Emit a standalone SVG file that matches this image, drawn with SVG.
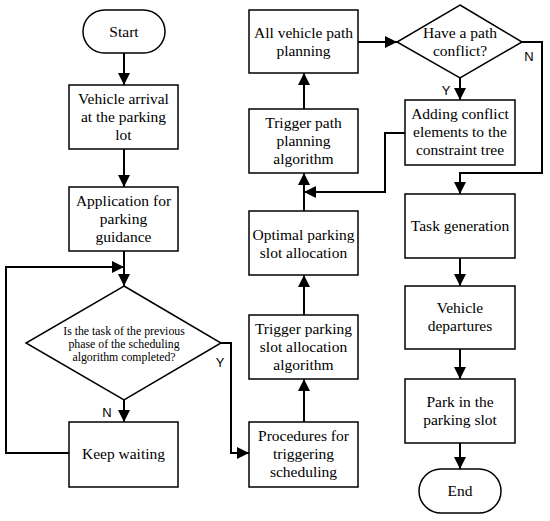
<svg xmlns="http://www.w3.org/2000/svg" width="550" height="521" viewBox="0 0 550 521">
<defs>
<marker id="ah" markerUnits="userSpaceOnUse" markerWidth="12" markerHeight="12" viewBox="0 0 12 12" refX="12" refY="6" orient="auto">
<path d="M0,0 L12,6 L0,12 Z" fill="#000"/>
</marker>
</defs>
<style>
.box{fill:#fff;stroke:#000;stroke-width:1.5}
.t{font-family:"Liberation Serif","Times New Roman",serif;font-size:15.5px;text-anchor:middle;fill:#000}
.ts{font-family:"Liberation Serif","Times New Roman",serif;font-size:11.8px;text-anchor:middle;fill:#000}
.lb{font-family:"Liberation Sans",Arial,sans-serif;font-size:13px;text-anchor:middle;fill:#000}
.ca{fill:none;stroke:#000;stroke-width:2;marker-end:url(#ah)}
</style>
<rect width="550" height="521" fill="#fff"/>
<g id="connectors">
<path class="ca" d="M124,53 V85"/>
<path class="ca" d="M124,149 V187"/>
<path class="ca" d="M124,251 V286"/>
<path class="ca" d="M69,453 H6 V267 H124"/>
<path class="ca" d="M124,400 V422"/>
<path class="ca" d="M221,343 H231 V453 H249"/>
<path class="ca" d="M304,422 V379"/>
<path class="ca" d="M304,315 V275"/>
<path class="ca" d="M304,211 V173"/>
<path class="ca" d="M304,109 V73"/>
<path class="ca" d="M405,133 H385 V192 H304"/>
<path class="ca" d="M358,42 H397"/>
<path class="ca" d="M460,78 V100"/>
<path class="ca" d="M522,42 H542 V173 H460 V194"/>
<path class="ca" d="M460,258 V286"/>
<path class="ca" d="M460,349 V379"/>
<path class="ca" d="M460,443 V469"/>
<text class="lb" x="107" y="417">N</text>
<text class="lb" x="220" y="367">Y</text>
<text class="lb" x="446" y="95">Y</text>
<text class="lb" x="529" y="61">N</text>
</g>
<g id="start">
<rect class="box" x="83" y="10" width="82" height="43" rx="21.5"/>
<text class="t" x="124" y="37">Start</text>
</g>
<g id="arrival">
<rect class="box" x="69" y="85" width="109" height="64"/>
<text class="t" x="123.5" y="104">Vehicle arrival</text>
<text class="t" x="123.5" y="122">at the parking</text>
<text class="t" x="123.5" y="140">lot</text>
</g>
<g id="application">
<rect class="box" x="69" y="187" width="109" height="64"/>
<text class="t" x="123.5" y="206">Application for</text>
<text class="t" x="123.5" y="224">parking</text>
<text class="t" x="123.5" y="242">guidance</text>
</g>
<g id="decision1">
<polygon class="box" points="124,286 221,343 124,400 26,343"/>
<text class="ts" x="124" y="335">Is the task of the previous</text>
<text class="ts" x="124" y="348">phase of the scheduling</text>
<text class="ts" x="124" y="361">algorithm completed?</text>
</g>
<g id="waiting">
<rect class="box" x="69" y="422" width="109" height="65"/>
<text class="t" x="123.5" y="459">Keep waiting</text>
</g>
<g id="procedures">
<rect class="box" x="249" y="422" width="109" height="65"/>
<text class="t" x="303.5" y="441">Procedures for</text>
<text class="t" x="303.5" y="459">triggering</text>
<text class="t" x="303.5" y="477">scheduling</text>
</g>
<g id="trigger-slot">
<rect class="box" x="249" y="315" width="109" height="64"/>
<text class="t" x="303.5" y="334">Trigger parking</text>
<text class="t" x="303.5" y="352">slot allocation</text>
<text class="t" x="303.5" y="370">algorithm</text>
</g>
<g id="optimal">
<rect class="box" x="249" y="211" width="109" height="64"/>
<text class="t" x="303.5" y="240">Optimal parking</text>
<text class="t" x="303.5" y="258">slot allocation</text>
</g>
<g id="trigger-path">
<rect class="box" x="249" y="109" width="109" height="64"/>
<text class="t" x="303.5" y="128">Trigger path</text>
<text class="t" x="303.5" y="146">planning</text>
<text class="t" x="303.5" y="164">algorithm</text>
</g>
<g id="all-path">
<rect class="box" x="249" y="10" width="109" height="63"/>
<text class="t" x="303.5" y="38">All vehicle path</text>
<text class="t" x="303.5" y="56">planning</text>
</g>
<g id="decision2">
<polygon class="box" points="460,5 522,42 460,78 397,42"/>
<text class="t" x="460" y="38">Have a path</text>
<text class="t" x="460" y="56">conflict?</text>
</g>
<g id="adding">
<rect class="box" x="405" y="100" width="110" height="65"/>
<text class="t" x="460" y="119">Adding conflict</text>
<text class="t" x="460" y="137">elements to the</text>
<text class="t" x="460" y="155">constraint tree</text>
</g>
<g id="task">
<rect class="box" x="405" y="194" width="110" height="64"/>
<text class="t" x="460" y="231">Task generation</text>
</g>
<g id="departures">
<rect class="box" x="405" y="286" width="110" height="63"/>
<text class="t" x="460" y="313">Vehicle</text>
<text class="t" x="460" y="331">departures</text>
</g>
<g id="park">
<rect class="box" x="405" y="379" width="110" height="64"/>
<text class="t" x="460" y="407">Park in the</text>
<text class="t" x="460" y="425">parking slot</text>
</g>
<g id="end">
<rect class="box" x="419" y="469" width="82" height="44" rx="22"/>
<text class="t" x="460" y="496">End</text>
</g>
</svg>
